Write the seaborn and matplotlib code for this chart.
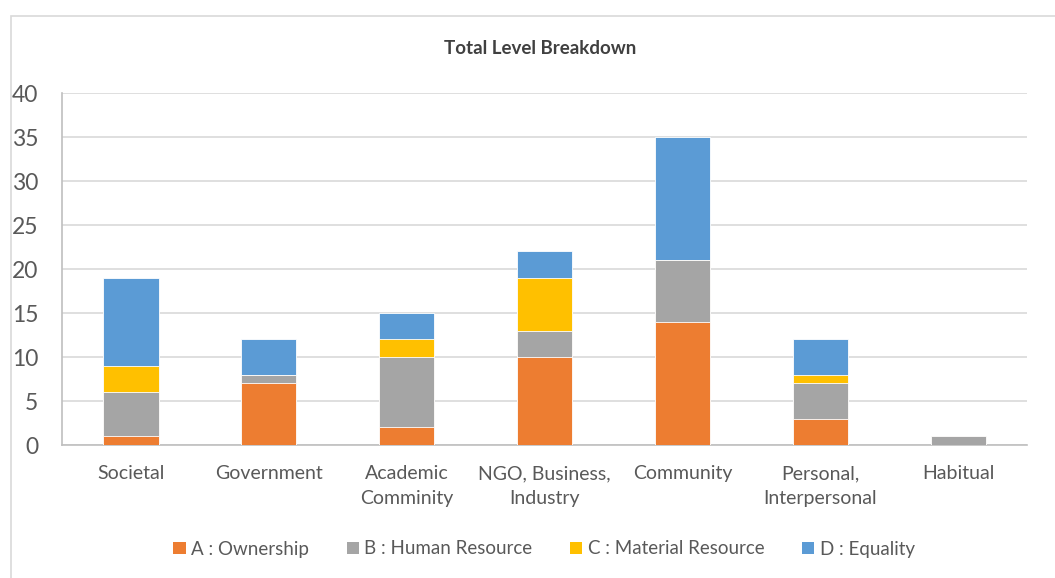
import matplotlib
matplotlib.use("Agg")
import matplotlib.pyplot as plt
from matplotlib.patches import Patch, Rectangle
import seaborn as sns
import pandas as pd
import numpy as np

categories = ["Societal", "Government", "Academic\nComminity", "NGO, Business,\nIndustry",
              "Community", "Personal,\nInterpersonal", "Habitual"]
ownership = [1, 7, 2, 10, 14, 3, 0]
human_resource = [5, 1, 8, 3, 7, 4, 1]
material_resource = [3, 0, 2, 6, 0, 1, 0]
equality = [10, 4, 3, 3, 14, 4, 0]

series_names = ["A : Ownership", "B : Human Resource", "C : Material Resource", "D : Equality"]
series_colors = ["#ED7D31", "#A5A5A5", "#FFC000", "#5B9BD5"]
series_values = [ownership, human_resource, material_resource, equality]

sns.set_theme(style="white")
plt.rcParams["font.family"] = ["Lato", "DejaVu Sans"]

fig = plt.figure(figsize=(10.55, 5.78), dpi=100)
ax = fig.add_axes([62 / 1055, 1 - 445 / 578, (1027 - 62) / 1055, (445 - 93) / 578])

# outer chart frame
fig.patches.append(Rectangle((11 / 1055, -0.05), 1.1, 1 - 16 / 578 + 0.05,
                             transform=fig.transFigure, fill=False,
                             edgecolor="#D9D9D9", linewidth=1.2))

# stacked bars: draw cumulative totals from the top segment down
cum = np.cumsum(np.array(series_values), axis=0)
for i in range(len(series_names) - 1, -1, -1):
    df = pd.DataFrame({"category": categories, "value": cum[i]})
    sns.barplot(data=df, x="category", y="value", order=categories, color=series_colors[i],
                width=0.4, saturation=1, edgecolor="white", linewidth=0.6, ax=ax, zorder=3)

ax.set_ylim(0, 40)
ax.set_yticks(range(0, 41, 5))
ax.set_xlim(-0.5, len(categories) - 0.5)
ax.yaxis.grid(True, color="#D9D9D9", linewidth=1.2, zorder=0)
ax.set_axisbelow(True)
for s in ["top", "right"]:
    ax.spines[s].set_visible(False)
ax.spines["left"].set_color("#BFBFBF")
ax.spines["bottom"].set_color("#BFBFBF")
ax.spines["left"].set_linewidth(1.2)
ax.spines["bottom"].set_linewidth(1.2)
ax.set_xlabel("")
ax.set_ylabel("")
ax.tick_params(axis="y", labelsize=16.5, labelcolor="#595959", length=0, pad=17)
ax.tick_params(axis="x", labelsize=14, labelcolor="#595959", length=0, pad=14.5)
for lbl in ax.get_xticklabels():
    lbl.set_linespacing(1.55)

fig.text(540 / 1055, 1 - 49 / 578, "Total Level Breakdown", ha="center", va="center",
         fontsize=13.5, fontweight="bold", color="#404040")

handles = [Patch(facecolor=c, edgecolor="none") for c in series_colors]
fig.legend(handles, series_names, loc="center", bbox_to_anchor=(544 / 1055, 1 - 549 / 578),
           ncol=4, frameon=False, fontsize=13.5, labelcolor="#595959",
           handlelength=0.65, handleheight=0.65, handletextpad=0.3, columnspacing=2.0)

fig.savefig("out.png", dpi=100)
